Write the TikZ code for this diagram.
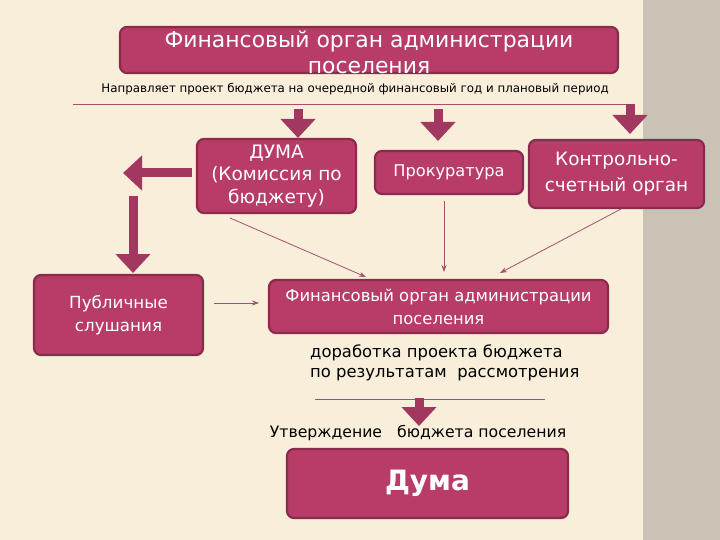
\documentclass[tikz,border=0pt]{standalone}
\usepackage{fontspec}
\setmainfont{DejaVu Sans}
\usetikzlibrary{arrows.meta}
\definecolor{bg}{HTML}{F8EEDA}
\definecolor{stripe}{HTML}{C8C3B4}
\definecolor{boxfill}{HTML}{B83C68}
\definecolor{boxborder}{HTML}{8A2A4C}
\definecolor{blockar}{HTML}{A2385F}
\definecolor{thin}{HTML}{A6506C}
\tikzset{
  box/.style={draw=boxborder, line width=2.2pt, fill=boxfill, rounded corners=7pt,
    text=white, align=center, inner sep=0pt},
  blockarrow/.style={draw=blockar, line width=9pt, -{Triangle[width=34pt,length=19pt]}},
  thinarrow/.style={draw=thin, line width=0.8pt, -{Stealth[length=7pt,width=5pt]}},
  rule/.style={draw=thin, line width=1pt},
  plain/.style={text=black, inner sep=0pt}
}
\begin{document}
\begin{tikzpicture}[x=1pt,y=-1pt]
\useasboundingbox (0,0) rectangle (720,540);
\fill[bg] (0,0) rectangle (720,540);
\fill[stripe] (643,0) rectangle (720,540);

% top box
\node[box, minimum width=498pt, minimum height=46pt] (fin1) at (369,50) {};
\node[text=white, align=center, inner sep=0pt, font=\fontsize{21.9}{26}\selectfont]
  (fin1t) at (369,52.5) {Финансовый орган администрации\\поселения};
\node[plain, font=\fontsize{11.85}{13}\selectfont] (note) at (355,89)
  {Направляет проект бюджета на очередной финансовый год и плановый период};
\coordinate (r1a) at (73,105);
\coordinate (r1b) at (630,105);
\draw[rule] (r1a) -- (r1b);

% second row
\node[box, minimum width=159pt, minimum height=74pt,
  font=\fontsize{18.5}{22.5}\selectfont] (duma1) at (276.5,176) {ДУМА\\(Комиссия по\\бюджету)};
\node[box, minimum width=148pt, minimum height=43pt,
  font=\fontsize{16.2}{19}\selectfont] (prok) at (449,172.5) {Прокуратура};
\node[box, minimum width=175pt, minimum height=68pt,
  font=\fontsize{18.4}{26}\selectfont] (kso) at (616.5,174) {Контрольно-\\счетный орган};

% block arrows down
\coordinate (a1s) at (298,109);
\coordinate (a1e) at (298,138);
\coordinate (a2s) at (438,109);
\coordinate (a2e) at (438,141);
\coordinate (a3s) at (630,104);
\coordinate (a3e) at (630,134);
\draw[blockarrow] (a1s) -- (a1e);
\draw[blockarrow] (a2s) -- (a2e);
\draw[blockarrow] (a3s) -- (a3e);

% left arrow and down arrow
\coordinate (ls) at (192,173);
\coordinate (la) at (123,173);
\draw[blockarrow] (ls) -- (la);
\coordinate (ds) at (133,196);
\coordinate (de) at (133,273);
\draw[blockarrow] (ds) -- (de);

% third row
\node[box, minimum width=169pt, minimum height=80pt,
  font=\fontsize{16.7}{23}\selectfont] (pub) at (118.5,315) {Публичные\\слушания};
\node[box, minimum width=339pt, minimum height=53pt,
  font=\fontsize{16.4}{23}\selectfont] (fin2) at (438.5,306.5)
  {Финансовый орган администрации\\поселения};

\coordinate (pa) at (214,303);
\coordinate (pb) at (259,303);
\draw[thinarrow] (pa) -- (pb);
\coordinate (t1s) at (230,218);
\coordinate (t1e) at (366,277);
\coordinate (t2s) at (444,201);
\coordinate (t2e) at (444,272);
\coordinate (t3s) at (621,209);
\coordinate (t3e) at (500,273);
\draw[thinarrow] (t1s) -- (t1e);
\draw[thinarrow] (t2s) -- (t2e);
\draw[thinarrow] (t3s) -- (t3e);

\node[plain, align=left, anchor=north west, font=\fontsize{16.4}{20}\selectfont] (dor) at (310,345)
  {доработка проекта бюджета\\по результатам\ \ рассмотрения};

\coordinate (r2a) at (315,399);
\coordinate (r2b) at (545,399);
\draw[rule] (r2a) -- (r2b);
\coordinate (a4s) at (419,398);
\coordinate (a4e) at (419,426);
\draw[blockarrow] (a4s) -- (a4e);

\node[plain, font=\fontsize{15.7}{17}\selectfont] (utv) at (418,433)
  {Утверждение\ \ \ бюджета поселения};

\node[box, minimum width=281pt, minimum height=69pt,
  font=\fontsize{28}{34}\bfseries\selectfont] (duma2) at (427.5,483.5) {Дума};
\end{tikzpicture}
\end{document}
